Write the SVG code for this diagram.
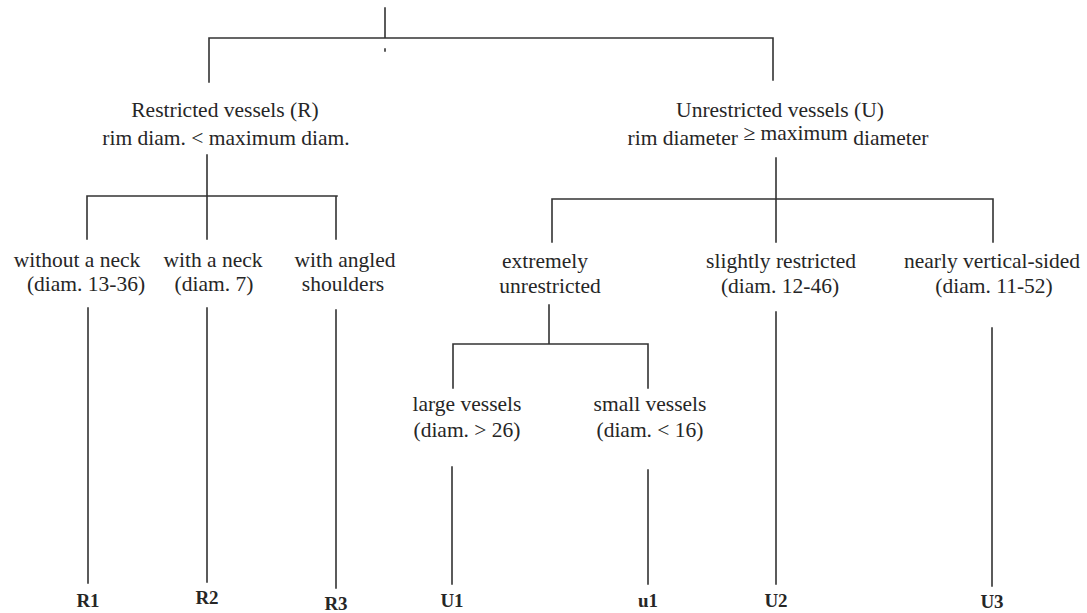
<svg xmlns="http://www.w3.org/2000/svg" width="1087" height="613" viewBox="0 0 1087 613">
<style>
.ln{stroke:#333;stroke-width:1.6;fill:none;stroke-linecap:square}
.t{font-family:"Liberation Serif","Times New Roman",serif;font-size:21.5px;fill:#262626;text-anchor:middle}
.b{font-family:"Liberation Serif","Times New Roman",serif;font-size:19px;font-weight:bold;fill:#262626;text-anchor:middle}
</style>
<rect width="1087" height="613" fill="#ffffff"/>
<g id="connectors">
<path class="ln" d="M385 8 V38 M209 38 H773 M209 38 V82 M773 38 V80"/>
<path class="ln" d="M385 49 V51"/>
<path class="ln" d="M207 155 V239 M87 196 H337 M87 196 V239 M336 196 V239"/>
<path class="ln" d="M776 158 V242 M552 199 H993 M552 199 V242 M993 199 V242"/>
<path class="ln" d="M88 308 V583 M207 308 V582 M336 310 V588"/>
<path class="ln" d="M549 305 V344 M453 344 H648 M453 344 V388 M648 344 V388"/>
<path class="ln" d="M452 467 V584 M648 470 V584"/>
<path class="ln" d="M776 312 V584 M992 328 V586"/>
</g>
<g id="n-root-R"><text class="t" x="225" y="117">Restricted vessels (R)</text><text class="t" x="226" y="145">rim diam. &lt; maximum diam.</text></g>
<g id="n-root-U"><text class="t" x="780" y="117">Unrestricted vessels (U)</text><text class="t" x="778" y="145">rim diameter <tspan dy="-5">≥ maximum</tspan><tspan dy="5"> diameter</tspan></text></g>
<g id="n-r-noneck"><text class="t" x="77" y="267">without a neck</text><text class="t" x="86" y="291">(diam. 13-36)</text></g>
<g id="n-r-neck"><text class="t" x="213" y="267">with a neck</text><text class="t" x="214" y="291">(diam. 7)</text></g>
<g id="n-r-angled"><text class="t" x="345" y="267">with angled</text><text class="t" x="343" y="291">shoulders</text></g>
<g id="n-u-extreme"><text class="t" x="545" y="268">extremely</text><text class="t" x="550" y="293">unrestricted</text></g>
<g id="n-u-slight"><text class="t" x="781" y="268">slightly restricted</text><text class="t" x="780" y="293">(diam. 12-46)</text></g>
<g id="n-u-vertical"><text class="t" x="992" y="268">nearly vertical-sided</text><text class="t" x="994" y="293">(diam. 11-52)</text></g>
<g id="n-u-large"><text class="t" x="467" y="411">large vessels</text><text class="t" x="467" y="437">(diam. &gt; 26)</text></g>
<g id="n-u-small"><text class="t" x="650" y="411">small vessels</text><text class="t" x="650" y="437">(diam. &lt; 16)</text></g>
<g id="n-R1"><text class="b" x="88" y="607">R1</text></g>
<g id="n-R2"><text class="b" x="207" y="604">R2</text></g>
<g id="n-R3"><text class="b" x="336" y="610">R3</text></g>
<g id="n-U1"><text class="b" x="452" y="607">U1</text></g>
<g id="n-u1"><text class="b" x="648" y="607">u1</text></g>
<g id="n-U2"><text class="b" x="776" y="607">U2</text></g>
<g id="n-U3"><text class="b" x="992" y="608">U3</text></g>
</svg>
